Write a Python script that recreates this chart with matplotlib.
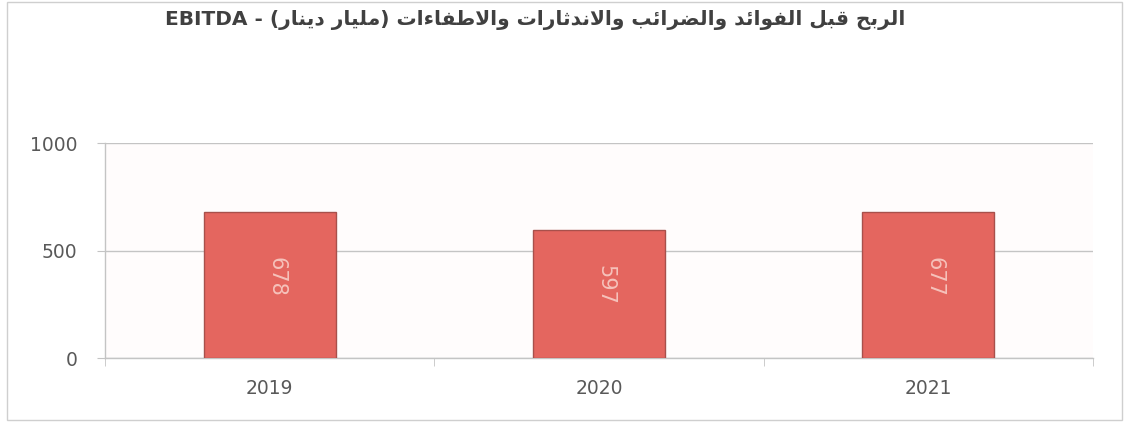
import matplotlib
matplotlib.use("Agg")
import matplotlib.pyplot as plt
from matplotlib.patches import Rectangle

YEARS = ["2019", "2020", "2021"]
EBITDA = [678, 597, 677]
Y_TICKS = [0, 500, 1000]
TITLE_WORDS = ["الربح", "قبل", "الفوائد", "والضرائب", "والاندثارات", "والاطفاءات"]
UNIT_WORDS = ["مليار", "دينار"]

# isolated, final, initial, medial (presentation forms B)
FORMS = {
    "ء": (0xFE80, None, None, None),
    "ئ": (0xFE89, 0xFE8A, 0xFE8B, 0xFE8C),
    "ا": (0xFE8D, 0xFE8E, None, None),
    "ب": (0xFE8F, 0xFE90, 0xFE91, 0xFE92),
    "ت": (0xFE95, 0xFE96, 0xFE97, 0xFE98),
    "ث": (0xFE99, 0xFE9A, 0xFE9B, 0xFE9C),
    "ح": (0xFEA1, 0xFEA2, 0xFEA3, 0xFEA4),
    "د": (0xFEA9, 0xFEAA, None, None),
    "ر": (0xFEAD, 0xFEAE, None, None),
    "ض": (0xFEBD, 0xFEBE, 0xFEBF, 0xFEC0),
    "ط": (0xFEC1, 0xFEC2, 0xFEC3, 0xFEC4),
    "ف": (0xFED1, 0xFED2, 0xFED3, 0xFED4),
    "ق": (0xFED5, 0xFED6, 0xFED7, 0xFED8),
    "ل": (0xFEDD, 0xFEDE, 0xFEDF, 0xFEE0),
    "م": (0xFEE1, 0xFEE2, 0xFEE3, 0xFEE4),
    "ن": (0xFEE5, 0xFEE6, 0xFEE7, 0xFEE8),
    "و": (0xFEED, 0xFEEE, None, None),
    "ي": (0xFEF1, 0xFEF2, 0xFEF3, 0xFEF4),
}


def joins_next(ch):
    return FORMS[ch][2] is not None


def shape(word):
    # join letters and return them in visual (left to right) order
    out = []
    i = 0
    while i < len(word):
        ch = word[i]
        prev = word[i - 1] if i > 0 else None
        after = joins_next(prev) if prev else False
        if ch == "ل" and i + 1 < len(word) and word[i + 1] == "ا":
            out.append(chr(0xFEFC if after else 0xFEFB))
            i += 2
            continue
        nxt = word[i + 1] if i + 1 < len(word) else None
        before = joins_next(ch) and nxt is not None and FORMS[nxt][1] is not None
        iso, fin, ini, med = FORMS[ch]
        if after and before:
            g = med
        elif after:
            g = fin if fin else iso
        elif before:
            g = ini
        else:
            g = iso
        out.append(chr(g))
        i += 1
    return "".join(reversed(out))


title = ("EBITDA - (" + " ".join(shape(w) for w in reversed(UNIT_WORDS)) + ") "
         + " ".join(shape(w) for w in reversed(TITLE_WORDS)))

fig = plt.figure(figsize=(11.25, 4.26), dpi=100)
fig.patch.set_facecolor("white")
ax = fig.add_axes([0.0933, 0.1596, 0.8783, 0.5047])
ax.set_facecolor("#fffcfc")

x = range(len(YEARS))
bars = ax.bar(x, EBITDA, width=0.40, color="#e4665f", edgecolor="#a8504b",
              linewidth=1.0, zorder=3)
for b, v in zip(bars, EBITDA):
    ax.text(b.get_x() + b.get_width() / 2 + 0.02, v / 2 + 40, str(v),
            rotation=270, ha="center", va="center", fontsize=15,
            color="#f6c2bb", zorder=4)

ax.set_xlim(-0.5, 2.5)
ax.set_ylim(0, 1000)
ax.set_yticks(Y_TICKS)
ax.set_xticks(x)
ax.set_xticklabels(YEARS)
ax.set_xticks([-0.5, 0.5, 1.5, 2.5], minor=True)
ax.grid(axis="y", color="#c4c4c4", linewidth=1.0, zorder=0)
for s in ["top", "right"]:
    ax.spines[s].set_visible(False)
for s in ["left", "bottom"]:
    ax.spines[s].set_color("#c4c4c4")
    ax.spines[s].set_linewidth(1.0)
ax.tick_params(axis="x", which="major", length=0, pad=15, labelsize=13.5,
               labelcolor="#595959")
ax.tick_params(axis="x", which="minor", length=6, color="#c4c4c4")
ax.tick_params(axis="y", length=6, color="#c4c4c4", pad=14, labelsize=13.5,
               labelcolor="#595959")

fig.text(0.4755, 0.952, title, ha="center", va="center", fontsize=14.5,
         fontweight="bold", color="#404040", family=["DejaVu Sans"])

fig.patches.append(Rectangle((0.006, 0.015), 0.991, 0.98, transform=fig.transFigure,
                             fill=False, edgecolor="#cfcfcf", linewidth=1.0))

fig.savefig("out.png", dpi=100)
